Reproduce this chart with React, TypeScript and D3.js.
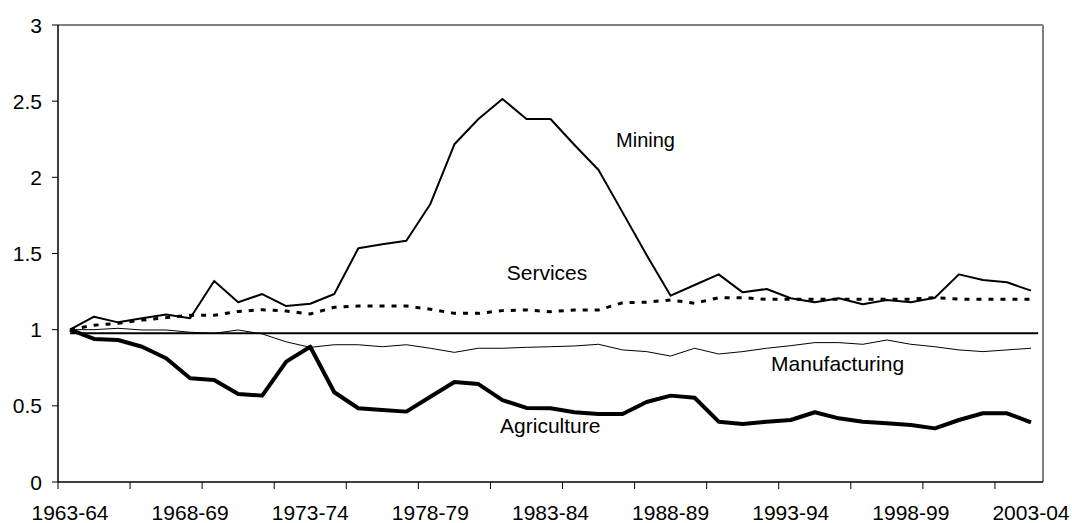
import React from "react";
import * as d3 from "d3";

const years = [
  "1963-64", "1964-65", "1965-66", "1966-67", "1967-68", "1968-69", "1969-70",
  "1970-71", "1971-72", "1972-73", "1973-74", "1974-75", "1975-76", "1976-77",
  "1977-78", "1978-79", "1979-80", "1980-81", "1981-82", "1982-83", "1983-84",
  "1984-85", "1985-86", "1986-87", "1987-88", "1988-89", "1989-90", "1990-91",
  "1991-92", "1992-93", "1993-94", "1994-95", "1995-96", "1996-97", "1997-98",
  "1998-99", "1999-00", "2000-01", "2001-02", "2002-03", "2003-04",
];

const mining = [
  1.0, 1.085, 1.048, 1.075, 1.1, 1.075, 1.32, 1.18, 1.234, 1.155,
  1.17, 1.234, 1.534, 1.56, 1.584, 1.825, 2.217, 2.383, 2.514, 2.383,
  2.383, 2.212, 2.048, 1.77, 1.49, 1.223, 1.293, 1.363, 1.245, 1.267,
  1.206, 1.18, 1.206, 1.167, 1.195, 1.18, 1.21, 1.363, 1.326, 1.311, 1.256,
];

const services = [
  1.0, 1.029, 1.042, 1.063, 1.079, 1.094, 1.094, 1.12, 1.131, 1.122,
  1.103, 1.147, 1.155, 1.155, 1.155, 1.134, 1.107, 1.107, 1.125, 1.129,
  1.118, 1.129, 1.129, 1.177, 1.18, 1.195, 1.173, 1.21, 1.21, 1.199,
  1.2, 1.2, 1.2, 1.2, 1.2, 1.2, 1.21, 1.2, 1.2, 1.2, 1.2,
];

const manufacturing = [
  1.0, 1.0, 1.009, 0.998, 0.998, 0.983, 0.976, 0.998, 0.972, 0.92,
  0.884, 0.901, 0.901, 0.888, 0.901, 0.878, 0.851, 0.878, 0.878, 0.884,
  0.888, 0.893, 0.904, 0.867, 0.856, 0.827, 0.878, 0.84, 0.856, 0.878,
  0.895, 0.915, 0.915, 0.904, 0.932, 0.904, 0.888, 0.867, 0.856, 0.867, 0.878,
];

const agriculture = [
  1.0, 0.939, 0.932, 0.888, 0.812, 0.681, 0.67, 0.578, 0.567, 0.79,
  0.888, 0.589, 0.484, 0.473, 0.462, 0.56, 0.656, 0.643, 0.538, 0.486,
  0.484, 0.458, 0.446, 0.446, 0.525, 0.567, 0.553, 0.396, 0.381, 0.396,
  0.407, 0.458, 0.418, 0.396, 0.385, 0.374, 0.352, 0.407, 0.451, 0.451, 0.392,
];

// flat reference line just under 1
const reference = 0.977;

const yTicks = [0, 0.5, 1, 1.5, 2, 2.5, 3];

// series labels: position in category units and value
const labels = [
  { text: "Mining", at: 23.23, value: 2.2 },
  { text: "Services", at: 18.68, value: 1.326 },
  { text: "Manufacturing", at: 29.68, value: 0.731 },
  { text: "Agriculture", at: 18.4, value: 0.32 },
];

const W = 1072;
const H = 523;
const margin = { top: 25, right: 29, bottom: 41, left: 58 };
const font = "'Liberation Sans', Arial, sans-serif";

export default function App() {
  const x = d3
    .scaleBand<string>()
    .domain(years)
    .range([margin.left, W - margin.right])
    .padding(0);
  const bw = x.bandwidth();
  const cx = (d: string) => (x(d) as number) + bw / 2;
  const y = d3.scaleLinear().domain([0, 3]).range([H - margin.bottom, margin.top]);

  const line = d3
    .line<number>()
    .x((_, i) => cx(years[i]))
    .y((d) => y(d));

  const left = margin.left;
  const right = W - margin.right;
  const top = margin.top;
  const bottom = H - margin.bottom;

  const tickIdx = years.map((_, i) => i).filter((i) => i % 3 === 0);
  const labelIdx = years.map((_, i) => i).filter((i) => i % 5 === 0);

  return (
    <svg
      width={W}
      height={H}
      style={{ position: "absolute", left: 0, top: 0, background: "#fff" }}
      fontFamily={font}
    >
      {/* frame */}
      <line x1={left} x2={right} y1={top} y2={top} stroke="#808080" strokeWidth={2} />
      <line x1={right} x2={right} y1={top} y2={bottom} stroke="#808080" strokeWidth={2} />

      {/* y axis */}
      {yTicks.map((t) => (
        <g key={t}>
          <line x1={left - 6} x2={left} y1={y(t)} y2={y(t)} stroke="#000" strokeWidth={1} />
          <text
            x={left - 16}
            y={y(t)}
            dy="0.36em"
            textAnchor="end"
            fontSize={21}
            fill="#000"
          >
            {t}
          </text>
        </g>
      ))}
      <line x1={left} x2={left} y1={top} y2={bottom} stroke="#000" strokeWidth={1.5} />

      {/* x axis */}
      {tickIdx.map((i) => (
        <line
          key={i}
          x1={x(years[i])}
          x2={x(years[i])}
          y1={bottom}
          y2={bottom + 7}
          stroke="#000"
          strokeWidth={1}
        />
      ))}
      {labelIdx.map((i) => (
        <text
          key={i}
          x={cx(years[i])}
          y={bottom + 38}
          textAnchor="middle"
          fontSize={21}
          fill="#000"
        >
          {years[i]}
        </text>
      ))}
      <line x1={left} x2={right} y1={bottom} y2={bottom} stroke="#000" strokeWidth={1.5} />

      {/* reference line */}
      <line
        x1={cx(years[0])}
        x2={right - bw * 0.2}
        y1={y(reference)}
        y2={y(reference)}
        stroke="#000"
        strokeWidth={2}
      />

      {/* series */}
      <path d={line(manufacturing) || ""} fill="none" stroke="#000" strokeWidth={1} />
      <path
        d={line(services) || ""}
        fill="none"
        stroke="#000"
        strokeWidth={3}
        strokeDasharray="5,7"
      />
      <path d={line(mining) || ""} fill="none" stroke="#000" strokeWidth={2} strokeLinejoin="round" />
      <path
        d={line(agriculture) || ""}
        fill="none"
        stroke="#000"
        strokeWidth={4}
        strokeLinejoin="round"
      />

      {labels.map((l) => (
        <text
          key={l.text}
          x={left + l.at * bw}
          y={y(l.value)}
          fontSize={l.text === "Mining" ? 20 : 21}
          fill="#000"
        >
          {l.text}
        </text>
      ))}
    </svg>
  );
}
